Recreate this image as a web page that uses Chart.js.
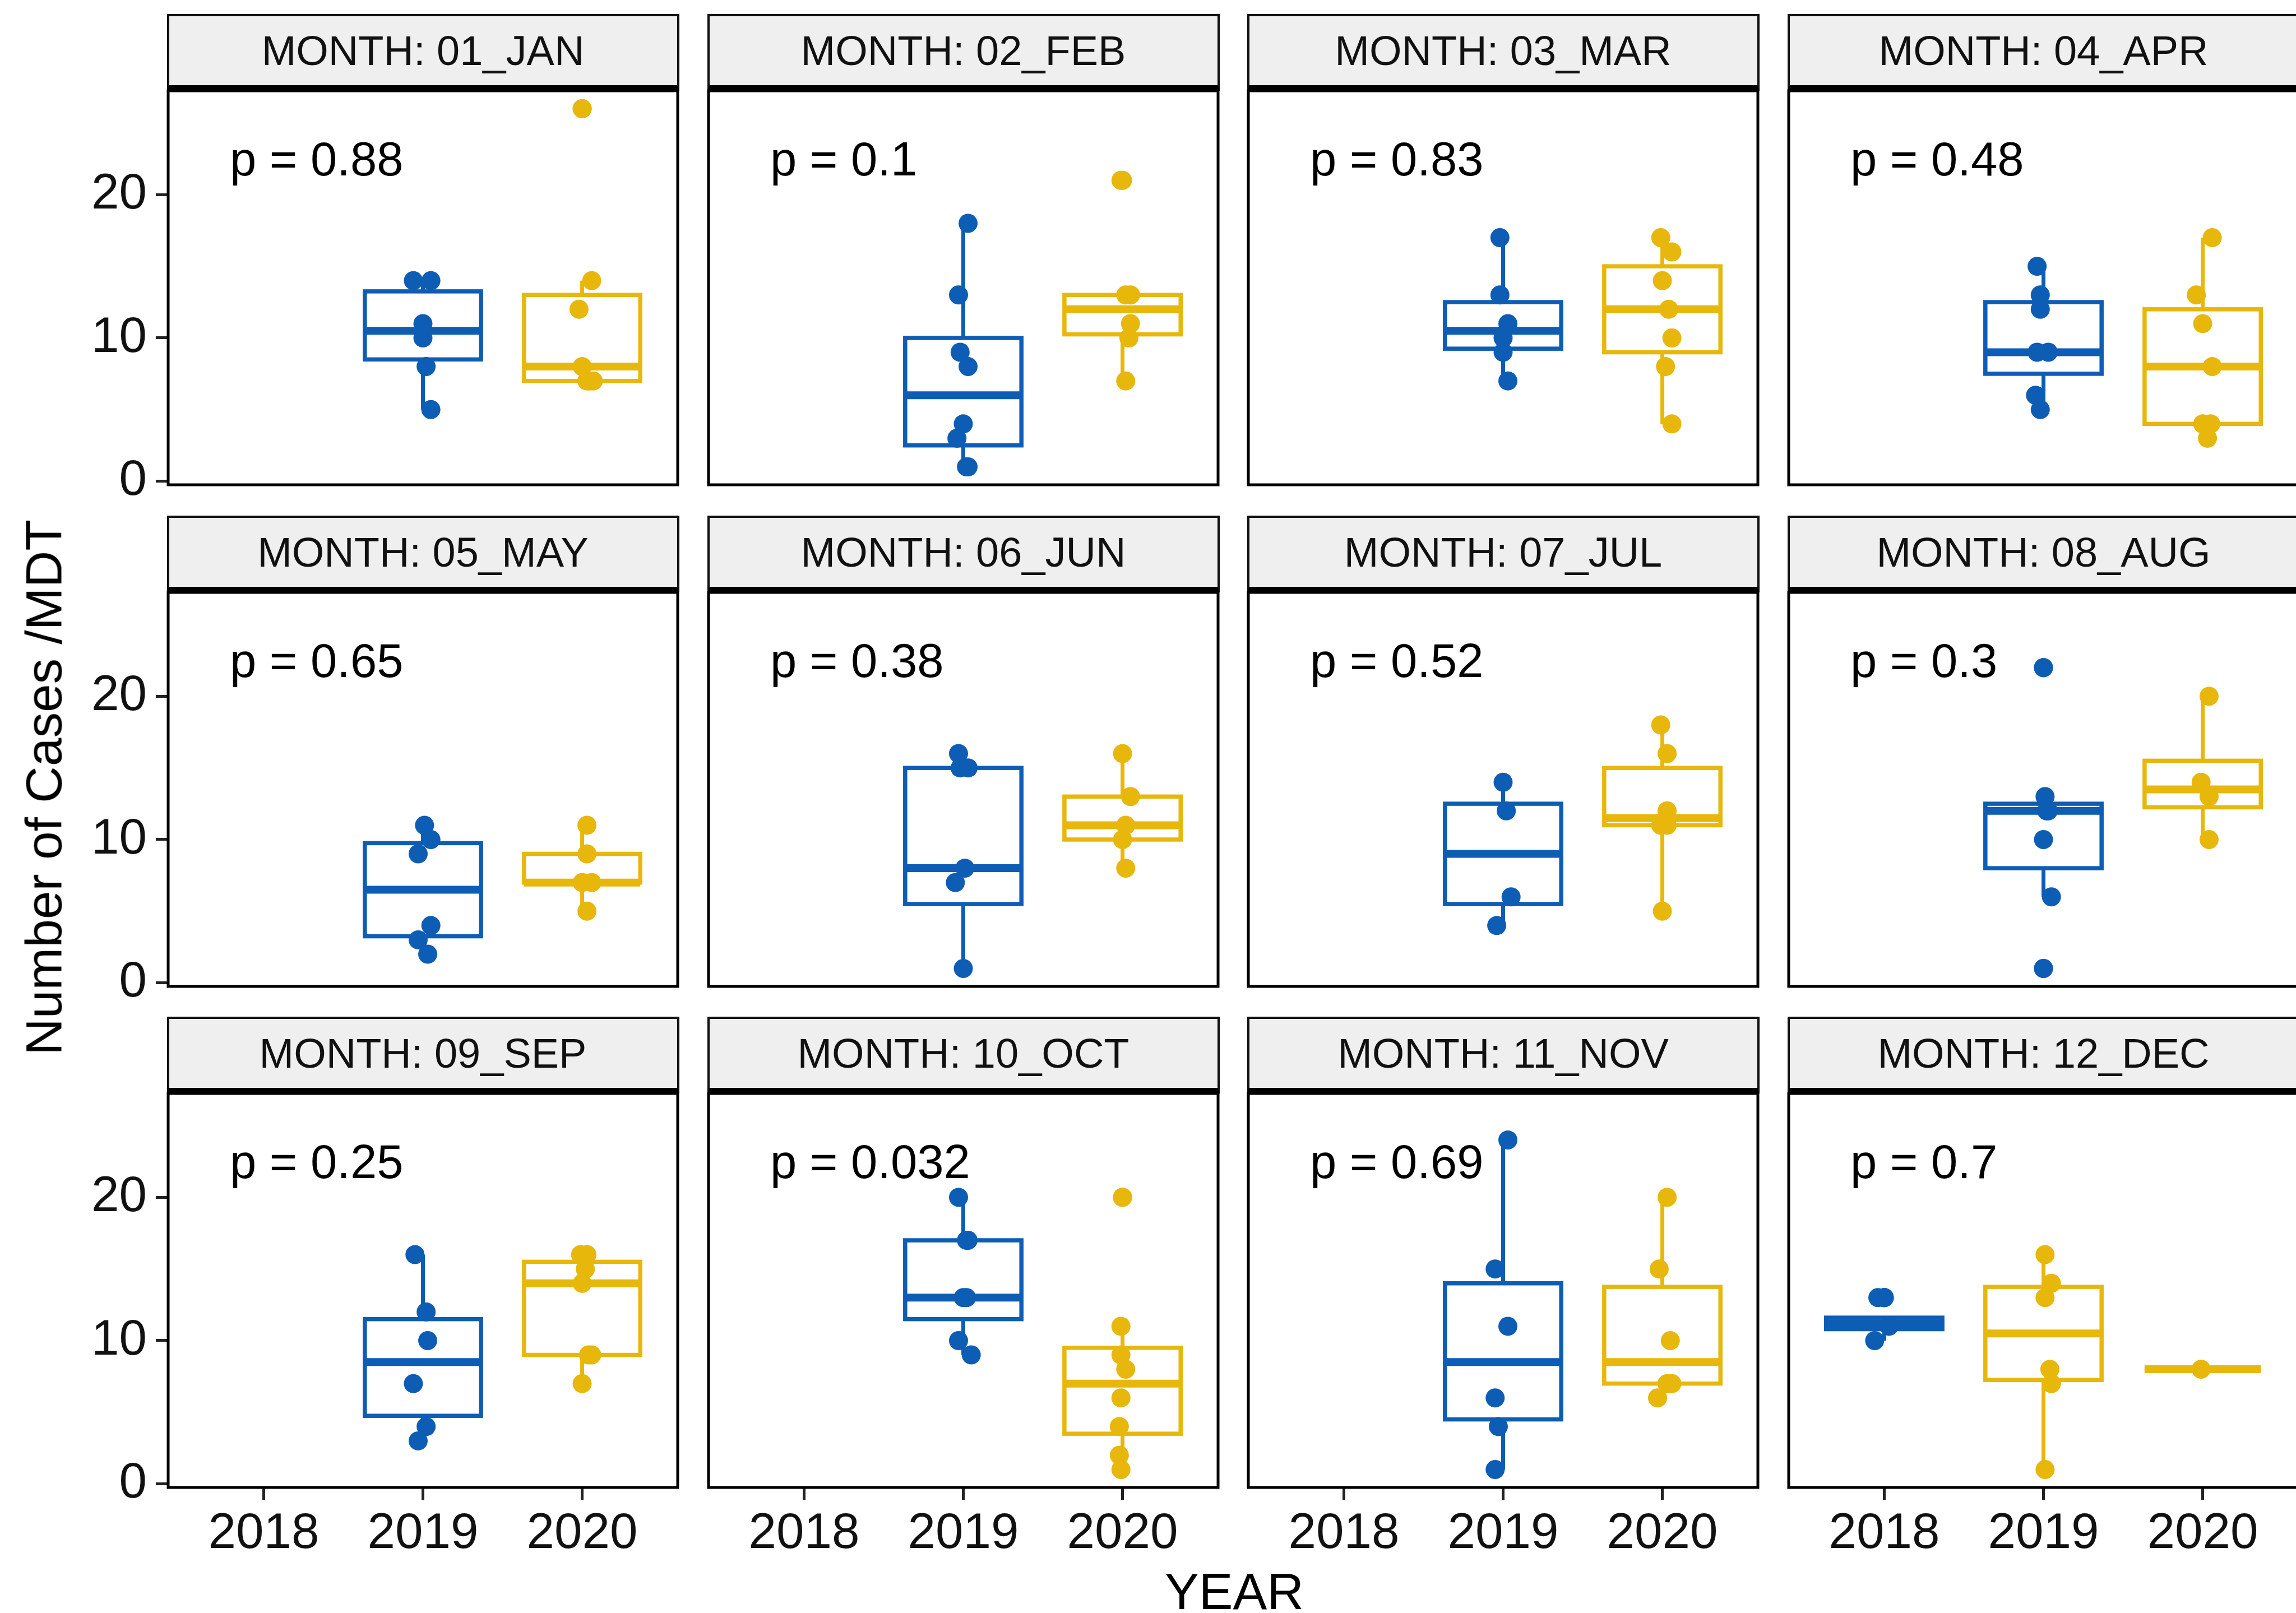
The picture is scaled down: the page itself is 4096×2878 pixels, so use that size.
<!DOCTYPE html>
<html><head><meta charset="utf-8">
<script src="https://cdn.jsdelivr.net/npm/chart.js@4.4.1/dist/chart.umd.min.js"></script>
<style>
html,body{margin:0;padding:0;background:#fff;}
#root{position:relative;width:4096px;height:2878px;overflow:hidden;background:#fff;font-family:'Liberation Sans',Arial,sans-serif;}
canvas{position:absolute;}
.strip{position:absolute;box-sizing:border-box;background:#EFEFEF;border:4px solid #111;border-bottom:10px solid #000;display:flex;align-items:center;justify-content:center;font-size:74px;line-height:1;color:#111;white-space:nowrap;}
.title{position:absolute;font-size:91px;line-height:1;color:#000;white-space:nowrap;transform:translate(-50%,-50%);}
</style></head><body><div id="root"></div>
<script>
// ---------- data ----------
const months = ['01_JAN','02_FEB','03_MAR','04_APR','05_MAY','06_JUN','07_JUL','08_AUG','09_SEP','10_OCT','11_NOV','12_DEC'];
const years = ['2018','2019','2020'];
const yTicks = [0, 10, 20];
const pValues = ['0.88','0.1','0.83','0.48','0.65','0.38','0.52','0.3','0.25','0.032','0.69','0.7'];

// individual monthly counts (cases / MDT), per facet
const cases2018 = [[],[],[],[],[],[],[],[],[],[],[],[13,13,11,10]];
const cases2019 = [
  [14,14,11,10,8,5],
  [18,13,9,8,4,3,1,1],
  [17,13,11,10,9,7],
  [15,13,12,9,9,6,5],
  [11,10,9,4,3,2],
  [16,15,15,8,7,1],
  [14,12,6,4],
  [22,13,12,12,10,6,1],
  [16,12,10,7,4,3],
  [20,17,17,13,13,10,9],
  [24,15,11,6,4,1],
  [16,14,13,8,7,1]
];
const cases2020 = [
  [26,14,12,8,7,7,7],
  [21,13,13,11,10,7],
  [17,16,14,12,10,8,4],
  [17,13,11,8,4,4,3],
  [11,9,7,7,5],
  [16,13,11,10,8],
  [18,16,12,11,11,5],
  [20,14,13,10],
  [16,16,15,14,9,9,7],
  [20,11,9,8,6,4,2,1],
  [20,15,10,7,7,6],
  [8]
];
// horizontal jitter of each point (in category units)
const jitter2018 = [[],[],[],[],[],[],[],[],[],[],[],[-0.04,0,0.03,-0.06]];
const jitter2019 = [
  [-0.06,0.05,0,0,0.02,0.05],
  [0.03,-0.03,-0.02,0.03,0,-0.04,0.03,0.02],
  [-0.02,-0.02,0.03,0,0,0.03],
  [-0.04,-0.02,-0.02,-0.04,0.03,-0.05,-0.02],
  [0.01,0.05,-0.03,0.05,-0.03,0.03],
  [-0.03,-0.02,0.03,0.01,-0.05,0],
  [0,0.02,0.05,-0.04],
  [0,0.01,0.02,0.03,0,0.05,0],
  [-0.05,0.02,0.03,-0.06,0.02,-0.03],
  [-0.03,0.03,0.02,0,0.02,-0.03,0.05],
  [0.03,-0.05,0.03,-0.05,-0.03,-0.05],
  [0.01,0.05,0.01,0.04,0.05,0.01]
];
const jitter2020 = [
  [0,0.06,-0.02,0,0.05,0.03,0.07],
  [-0.01,0.02,0.05,0.05,0.04,0.02],
  [-0.01,0.06,0,0.04,0.06,0.02,0.06],
  [0.06,-0.04,0,0.06,0,0.05,0.03],
  [0.03,0.03,0,0.06,0.03],
  [0,0.05,0.02,0,0.02],
  [-0.01,0.03,0.03,0.03,-0.01,0],
  [0.04,-0.01,0.04,0.04],
  [-0.01,0.03,0.02,0,0.04,0.06,0],
  [0,-0.01,-0.01,0.02,-0.01,-0.02,-0.02,-0.01],
  [0.03,-0.02,0.05,0.06,0.03,-0.03],
  [-0.01]
];
// box statistics [lower whisker, Q1, median, Q3, upper whisker]
const box2018 = [null,null,null,null,null,null,null,null,null,null,null,[10,10.8,11.2,11.6,11.6]];
const box2019 = [
  [5,8.5,10.5,13.25,14],
  [1,2.5,6,10,18],
  [7,9.25,10.5,12.5,17],
  [5,7.5,9,12.5,15],
  [2,3.25,6.5,9.75,11],
  [1,5.5,8,15,16],
  [4,5.5,9,12.5,14],
  [6,8,12,12.5,13],
  [3,4.75,8.5,11.5,16],
  [9,11.5,13,17,20],
  [1,4.5,8.5,14,24],
  [1,7.25,10.5,13.75,16]
];
const box2020 = [
  [7,7,8,13,14],
  [7,10.25,12,13,13],
  [4,9,12,15,17],
  [3,4,8,12,17],
  [5,7,7,9,11],
  [8,10,11,13,16],
  [5,11,11.5,15,18],
  [10,12.25,13.5,15.5,20],
  [7,9,14,15.5,16],
  [1,3.5,7,9.5,11],
  [6,7,8.5,13.75,20],
  [8,8,8,8,8]
];
// colour group of each box (0 = blue, 1 = yellow)
const group2018 = [0,0,0,0,0,0,0,0,0,0,0,0];
const group2019 = [0,0,0,0,0,0,0,0,0,0,0,1];
const group2020 = [1,1,1,1,1,1,1,1,1,1,1,1];

// ---------- styling / layout ----------
const palette = ['#0E5DB5', '#E8B70C'];
const PAD = 6, X_AXIS_H = 160, LABEL_PAD = 60;
const PANEL_L = [300,1264,2227,3191], PANEL_T = [162,1057,1951], PANEL_W = 909, PANEL_H = 703, STRIP_H = 137;
const BOX_W = 0.73, POINT_R = 17, BOX_LW = 7.5, MED_LW = 14, WHISK_LW = 7, FRAME_LW = 5;
const P_X = 0.787, P_Y = 22.25;
const Y_MIN = -0.25, Y_MAX = 27.25, X_MIN = 0.4, X_MAX = 3.6;
const FONT = "'Liberation Sans', Arial, Helvetica, sans-serif";

const allCases = [cases2018, cases2019, cases2020];
const allJit = [jitter2018, jitter2019, jitter2020];
const allBox = [box2018, box2019, box2020];
const allGroup = [group2018, group2019, group2020];

Chart.defaults.font.family = FONT;
Chart.defaults.color = '#111';

const root = document.getElementById('root');

const boxPlugin = {
  id: 'boxes',
  beforeDatasetsDraw(chart, args, opts) {
    const m = opts.month, ctx = chart.ctx, a = chart.chartArea;
    const x = chart.scales.x, y = chart.scales.y;
    ctx.save();
    ctx.beginPath(); ctx.rect(a.left, a.top, a.width, a.height); ctx.clip();
    allBox.forEach((boxes, yi) => {
      const b = boxes[m]; if (!b) return;
      const col = palette[allGroup[yi][m]];
      const xc = x.getPixelForValue(yi + 1);
      const x0 = x.getPixelForValue(yi + 1 - BOX_W / 2), x1 = x.getPixelForValue(yi + 1 + BOX_W / 2);
      const [lo, q1, md, q3, hi] = b.map(v => y.getPixelForValue(v));
      ctx.strokeStyle = col; ctx.lineCap = 'butt';
      ctx.lineWidth = WHISK_LW;
      ctx.beginPath(); ctx.moveTo(xc, q3); ctx.lineTo(xc, hi); ctx.moveTo(xc, q1); ctx.lineTo(xc, lo); ctx.stroke();
      ctx.fillStyle = '#fff'; ctx.fillRect(x0, q3, x1 - x0, q1 - q3);
      ctx.lineWidth = BOX_LW; ctx.lineJoin = 'miter'; ctx.strokeRect(x0, q3, x1 - x0, q1 - q3);
      ctx.lineWidth = MED_LW; ctx.beginPath(); ctx.moveTo(x0, md); ctx.lineTo(x1, md); ctx.stroke();
    });
    ctx.restore();
  },
  afterDraw(chart, args, opts) {
    const m = opts.month, ctx = chart.ctx, a = chart.chartArea;
    const x = chart.scales.x, y = chart.scales.y;
    ctx.save();
    ctx.fillStyle = '#000'; ctx.font = '85px ' + FONT; ctx.textAlign = 'left'; ctx.textBaseline = 'middle';
    ctx.fillText('p = ' + pValues[m], x.getPixelForValue(P_X), y.getPixelForValue(P_Y));
    ctx.strokeStyle = '#000'; ctx.lineWidth = FRAME_LW; ctx.strokeRect(a.left, a.top, a.width, a.height);
    ctx.restore();
  }
};

function makePanel(m) {
  const r = Math.floor(m / 4), c = m % 4;
  // strip
  const s = document.createElement('div');
  s.className = 'strip';
  s.style.left = (PANEL_L[c] - FRAME_LW / 2) + 'px';
  s.style.top = (PANEL_T[r] - STRIP_H) + 'px';
  s.style.width = (PANEL_W + FRAME_LW) + 'px';
  s.style.height = STRIP_H + 'px';
  s.textContent = 'MONTH: ' + months[m];
  root.appendChild(s);

  const showX = r === 2, showY = c === 0;
  const padBottom = showX ? 0 : (showY ? LABEL_PAD : PAD);
  const left = showY ? 0 : PANEL_L[c] - PAD;
  const top = PANEL_T[r] - PAD;
  const w = (showY ? PANEL_L[0] : PAD) + PANEL_W + PAD;
  const h = PAD + PANEL_H + (showX ? X_AXIS_H : padBottom);
  const cv = document.createElement('canvas');
  cv.width = w; cv.height = h;
  cv.style.left = left + 'px'; cv.style.top = top + 'px';
  cv.style.width = w + 'px'; cv.style.height = h + 'px';
  root.appendChild(cv);

  const datasets = [];
  allCases.forEach((cs, yi) => {
    const vals = cs[m]; if (!vals.length) return;
    datasets.push({
      data: vals.map((v, i) => ({ x: yi + 1 + allJit[yi][m][i], y: v })),
      backgroundColor: palette[allGroup[yi][m]], borderWidth: 0,
      pointRadius: POINT_R, pointHoverRadius: POINT_R
    });
  });
  // boxplot outliers (drawn at the category centre)
  allCases.forEach((cs, yi) => {
    const b = allBox[yi][m]; if (!b) return;
    const out = cs[m].filter(v => v > b[4] || v < b[0]);
    if (!out.length) return;
    datasets.push({
      data: out.map(v => ({ x: yi + 1, y: v })),
      backgroundColor: palette[allGroup[yi][m]], borderWidth: 0,
      pointRadius: POINT_R, pointHoverRadius: POINT_R
    });
  });

  new Chart(cv, {
    type: 'scatter',
    data: { datasets },
    options: {
      responsive: false, animation: false, devicePixelRatio: 1,
      layout: { autoPadding: false, padding: { left: showY ? 0 : PAD, right: PAD, top: PAD, bottom: padBottom } },
      plugins: { legend: { display: false }, tooltip: { enabled: false }, boxes: { month: m } },
      scales: {
        x: {
          type: 'linear', min: X_MIN, max: X_MAX, display: showX,
          afterBuildTicks: sc => { sc.ticks = years.map((yv, i) => ({ value: i + 1 })); },
          afterFit: sc => { if (showX) sc.height = X_AXIS_H; sc.paddingLeft = 0; sc.paddingRight = 0; },
          ticks: { callback: (v, i) => years[i], font: { size: 89 }, color: '#111', padding: 8, autoSkip: false, maxRotation: 0 },
          grid: { drawOnChartArea: false, drawTicks: true, tickLength: 22, tickWidth: 5, tickColor: '#222' },
          border: { display: false }
        },
        y: {
          type: 'linear', min: Y_MIN, max: Y_MAX, display: showY,
          afterBuildTicks: sc => { sc.ticks = yTicks.map(v => ({ value: v })); },
          afterFit: sc => { if (showY) sc.width = PANEL_L[0]; sc.paddingTop = 0; sc.paddingBottom = 0; },
          ticks: { callback: v => String(v), font: { size: 89 }, color: '#111', padding: 16, autoSkip: false },
          grid: { drawOnChartArea: false, drawTicks: true, tickLength: 22, tickWidth: 5, tickColor: '#222' },
          border: { display: false }
        }
      }
    },
    plugins: [boxPlugin]
  });
}

for (let m = 0; m < 12; m++) makePanel(m);

// axis titles
const xt = document.createElement('div');
xt.className = 'title'; xt.textContent = 'YEAR';
xt.style.left = '2202px'; xt.style.top = '2839px';
root.appendChild(xt);
const yt = document.createElement('div');
yt.className = 'title'; yt.textContent = 'Number of Cases /MDT';
yt.style.left = '78px'; yt.style.top = '1405px';
yt.style.transform = 'translate(-50%,-50%) rotate(-90deg)';
root.appendChild(yt);
</script></body></html>
